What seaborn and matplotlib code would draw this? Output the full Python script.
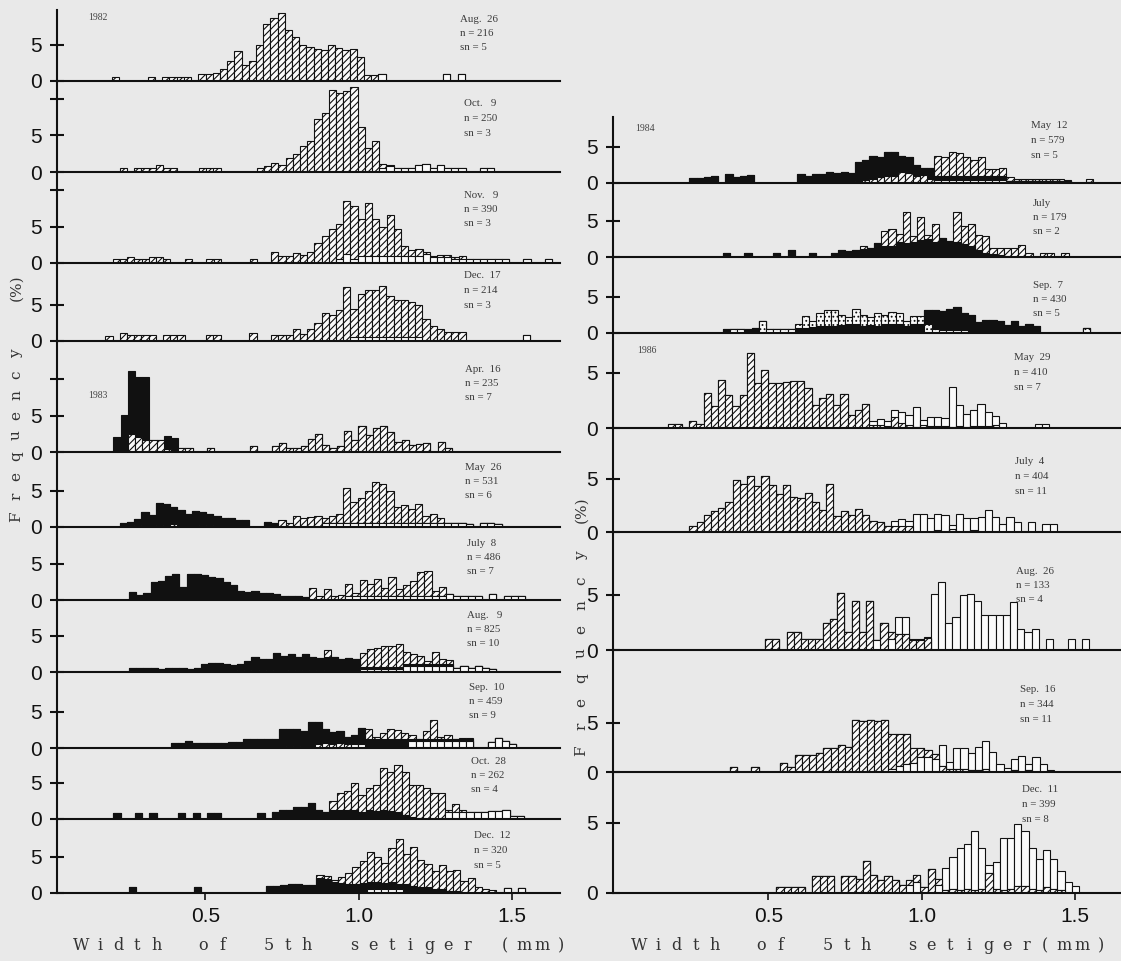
import numpy as np
import pandas as pd
import matplotlib
matplotlib.use("Agg")
import matplotlib.pyplot as plt
import seaborn as sns

# ------------------------------------------------------------------
# DATA  (frequency in %, one value per size class of width BIN_W mm)
# ------------------------------------------------------------------
BIN_W = 0.0235

# ---- 1982 Aug. 26 ----
P01_START = 0.195
P01_HATCH = [0.5,0,0,0,0,0.5,0,0.5,0.5,0.5, 0.5,0,1.0,1.0,1.1,1.6,2.7,4.1,2.2,2.7,
             5.0,7.8,8.6,9.3,7.0,6.0,5.0,4.6,4.4,4.3, 4.9,4.5,4.2,4.4,3.3,0.8,0.8]
P01_WHITE = [0,0,0,0,0,0,0,0,0,0, 0,0,0,0,0,0,0,0,0,0, 0,0,0,0,0,0,0,0,0,0,
             0,0,0,0,0,0,0,1.0,0,0, 0,0,0,0,0,0,1.0,0,1.0]
# ---- 1982 Oct. 9 ----
P02_START = 0.221
P02_HATCH = [0.5,0,0.5,0.5,0.5,0.9,0.6,0.5,0,0, 0,0.5,0.5,0.5,0,0,0,0,0,0.6,
             0.85,1.3,1.0,1.9,2.4,3.5,4.2,7.2,8.1,11.2, 10.8,11.1,11.6,6.1,3.3,4.2,0.6,0.2]
P02_WHITE = [0,0,0,0,0,0,0,0,0,0, 0,0,0,0,0,0,0,0,0,0, 0,0,0,0,0,0,0,0,0,0,
             0,0,0,0,0,0,0.5,0.8,0.5,0.5, 0.5,1.0,1.1,0.5,0.9,0.5,0.5,0.5,0,0, 0.5,0.5]
# ---- 1982 Nov. 9 ----
P03_START = 0.198
P03_HATCH = [0.5,0.5,0.8,0.6,0.5,0.8,0.8,0.6,0,0, 0.5,0,0,0.5,0.5,0,0,0,0,0.5,
             0,0,1.5,0.9,1.0,1.4,1.1,1.5,2.7,3.7, 4.6,4.8,7.3,7.2,5.1,7.3,5.1,4.1,5.7,3.7,
             1.3,0.8,0.9,0.3,0.2,0.3,0.3,0.2,0.3]
P03_WHITE = [0,0,0,0,0,0,0,0,0,0, 0,0,0,0,0,0,0,0,0,0, 0,0,0,0,0,0,0,0,0,0,
             0,0.5,1.2,0.6,0.9,0.9,0.9,0.9,0.9,0.9, 1.0,1.0,1.0,1.2,0.8,0.8,0.8,0.6,0.6,0.6,
             0.5,0.6,0.6,0.6,0.5,0,0,0.6,0,0, 0.6]
# ---- 1982 Dec. 17 ----
P04_START = 0.174
P04_HATCH = [0.7,0,1.1,0.8,0.8,0.8,0.8,0,0.8,0.8, 0.8,0,0,0,0.8,0.8,0,0,0,0,
             1.1,0,0,0.8,0.8,0.8,1.6,1.0,1.6,2.4, 3.9,3.6,4.2,7.4,3.9,6.0,6.5,6.5,7.0,5.7,
             5.1,5.1,4.9,4.5,3.0,2.1,1.6,1.2,1.2,1.2]
P04_WHITE = [0,0,0,0,0,0,0,0,0,0, 0,0,0,0,0,0,0,0,0,0, 0,0,0,0,0,0,0,0,0,0,
             0,0,0,0,0.5,0.5,0.5,0.5,0.5,0.5, 0.5,0.5,0.5,0.5,0,0,0,0,0,0,
             0,0,0,0,0,0,0,0,0.8]
# ---- 1983 Apr. 16 ----
P05_START = 0.200
P05_HATCH = [0,0.2,2.4,2.1,1.6,1.6,1.6,0.4,0,0.5, 0.5,0,0,0.5,0,0,0,0,0,0.8,
             0,0,0.8,1.2,0.6,0.6,0.8,1.8,2.5,0.9, 0.5,0.8,2.9,1.7,3.6,2.3,3.3,3.6,2.8,1.4,
             1.7,0.9,1.1,1.3,0,1.4,0.5]
P05_BLACK = [2.1,4.9,8.7,8.2,8.7,0,0,1.8,1.9]
# ---- 1983 May 26 ----
P06_START = 0.221
P06_HATCH_LO = [0,0,0.3,0,0,0.3,0.3,0.4,0,0, 0,0.3,0.3]
P06_BLACK = [0.5,0.7,0.8,2.1,1.6,3.0,2.8,2.4,2.3,1.8, 2.2,1.7,1.5,1.5,1.3,1.3,0.9,0.9,0,0,
             0.7,0.5]
P06_HATCH = [0,0,0,0,0,0,0,0,0,0, 0,0,0,0,0,0,0,0,0,0, 0,0,1.0,0.6,1.5,1.2,1.4,1.5,0.8,1.0,
             1.3,4.8,2.9,3.5,4.5,5.7,5.4,4.5,2.3,2.5, 2.0,2.6,1.0,1.3,0.7]
P06_WHITE = [0,0,0,0,0,0,0,0,0,0, 0,0,0,0,0,0,0,0,0,0, 0,0,0,0,0,0,0,0,0.5,0.5,
             0.5,0.5,0.5,0.5,0.5,0.5,0.5,0.5,0.5,0.5, 0.5,0.5,0.5,0.5,0.5,0.6,0.5,0.5,0.4,0,
             0.6,0.6,0.4]
# ---- 1983 July 8 ----
P07_START = 0.251
P07_BLACK = [1.1,0.7,1.0,2.4,2.6,3.3,3.6,1.8,3.6,3.6, 3.4,3.2,3.0,2.4,2.0,1.3,1.1,1.2,1.0,1.0,
             0.8,0.6,0.5,0.6,0.4]
P07_HATCH = [0,0,0,0,0,0,0,0,0,0, 0,0,0,0,0,0,0,0,0,0, 0,0,0,0,0,1.6,0.6,1.5,0.6,0.7,
             1.6,0.3,2.1,1.6,2.3,1.1,2.5,0.9,1.4,2.0, 3.2,3.4,0.7,1.2]
P07_WHITE = [0,0,0,0,0,0,0,0,0,0, 0,0,0,0,0,0,0,0,0,0, 0,0,0,0,0,0,0,0,0,0,
             0.6,0.6,0.6,0.6,0.6,0.6,0.6,0.6,0.6,0.6, 0.6,0.6,0.6,0.6,0.8,0.6,0.6,0.6,0.6,0,
             0.8,0,0.6,0.6,0.6]
# ---- 1983 Aug. 9 ----
P08_START = 0.251
P08_HATCH_LO = [0,0,0,0,0,0,0,0,0,0, 0,0,0,0,0,0.3,0,0.3,0.3,0.3, 0,0,0.3,0.3,0.3,0.3,0.3]
P08_BLACK = [0.5,0.5,0.6,0.5,0.4,0.5,0.5,0.5,0.4,0.6, 1.1,1.3,1.2,1.1,0.9,0.8,1.5,1.7,1.5,1.5,
             2.6,2.2,2.2,1.8,2.2,1.7,1.6,2.0,2.0,1.8, 1.9,1.8,0.3,0.3,0.3,0.3,0.3,0.3,0.3,0.3,
             0.3,0.3,0.3,0.3,0.3]
P08_HATCH = [0,0,0,0,0,0,0,0,0,0, 0,0,0,0,0,0,0,0,0,0, 0,0,0,0,0,0,0,1.0,0,0,
             0,0,1.9,2.4,2.6,2.8,2.9,3.1,1.6,1.3, 1.1,0.4,1.6,0.7,0.6]
P08_WHITE = [0,0,0,0,0,0,0,0,0,0, 0,0,0,0,0,0,0,0,0,0, 0,0,0,0,0,0,0,0,0,0,
             0,0,0.4,0.4,0.4,0.4,0.4,0.4,0.8,0.8, 0.8,0.8,0.8,0.8,0.8,0.5,0.8,0.5,0.8,0.5,
             0.4]
# ---- 1983 Sep. 10 ----
P09_START = 0.387
P09_WHITE = [0,0,0,0,0,0,0,0,0,0, 0,0,0,0,0,0,0,0,0,0, 0,0,0,0,0,0.5,0.5,0,0,0,
             0,0,0,0.9,0.9,0.9,0.9,0.9,0.9,0.9, 0.9,0.9,0,0,0.8,1.4,1.0,0.5]
P09_HATCH_LO = [0,0,0,0,0,0,0,0,0,0, 0,0,0,0,0.2,0,0.3,0.3,0,0, 0.5,0.7,0.5,0.7,0.5]
P09_BLACK = [0.7,0.7,0.9,0.7,0.7,0.7,0.7,0.7,0.8,0.8, 1.2,1.2,1.2,1.2,1.1,2.6,2.3,2.3,2.3,3.6,
             3.1,1.9,1.7,1.6,1.0,1.3,2.3,1.2,1.2,1.2, 1.2,1.2,1.2,0.3,0.3,0.3,0.3,0.3,0.3,0.3,
             0.3,0.3]
P09_HATCH = [0,0,0,0,0,0,0,0,0,0, 0,0,0,0,0,0,0,0,0,0, 0,0,0,0,0,0,0,1.4,0.3,0.8,
             1.4,1.2,0.8,0.6,0.1,1.1,2.7,0.3,0.6,0.1, 0.2,0.2]
# ---- 1983 Oct. 28 ----
P10_START = 0.200
P10_BLACK = [0.8,0,0,0.8,0,0.8,0,0,0,0.8, 0,0.8,0,0.8,0.8,0,0,0,0,0,
             0.8,0,1.0,1.3,1.3,1.6,1.6,2.2,1.3,1.0, 1.3,1.3,1.3,1.2,1.0,1.2,1.1,1.2,1.1,1.0,
             0.5,0.3,0.2]
P10_HATCH = [0,0,0,0,0,0,0,0,0,0, 0,0,0,0,0,0,0,0,0,0, 0,0,0,0,0,0,0,0,0,0,
             1.1,2.3,2.5,3.8,2.3,3.1,3.5,5.8,5.3,6.4, 6.0,4.3,4.4,4.3,3.6,3.5,0.3,1.2,0.3]
P10_WHITE = [0,0,0,0,0,0,0,0,0,0, 0,0,0,0,0,0,0,0,0,0, 0,0,0,0,0,0,0,0,0,0,
             0,0,0,0,0,0,0,0,0,0, 0,0,0,0,0,0,0.9,0.9,0.9,0.9, 0.9,0.9,1.1,1.1,1.2,0.4,0.4]
# ---- 1983 Dec. 12 ----
P11_START = 0.251
P11_WHITE = [0,0,0,0,0,0,0,0,0,0, 0,0,0,0,0,0,0,0,0,0, 0,0,0,0,0,0,0,0,0,0,
             0,0,0,0.6,0.6,0.6,0.6,0.6,0,0, 0,0,0,0,0,0,0,0,0,0, 0,0,0.7,0,0.7]
P11_BLACK = [0.8,0,0,0,0,0,0,0,0,0.8, 0,0,0,0,0,0,0,0,0,0.9,
             0.9,1.1,1.3,1.3,1.1,1.1,2.0,1.9,1.5,1.4, 1.3,1.3,1.4,0.9,0.9,0.8,0.9,0.7,1.2,1.0,
             0.8,0.8,0.5,0.5,0.3,0.3]
P11_HATCH = [0,0,0,0,0,0,0,0,0,0, 0,0,0,0,0,0,0,0,0,0, 0,0,0,0,0,0,0.5,0.4,0.3,0.8,
             1.4,2.2,3.0,4.1,3.4,2.7,4.7,6.1,4.2,5.3, 3.7,3.2,2.5,3.3,2.7,2.8,1.6,2.0,0.8,0.5,
             0.4]
# ---- 1984 May 12 ----
P12_START = 0.242
P12_WHITE = [0,0,0,0,0,0,0,0,0,0, 0,0,0,0,0,0,0,0,0,0, 0,0,0,0,0,0,0,0,0,0,
             0,0,0,0,0.4,0.4,0.4,0.4,0.4,0.4, 0.4,0.4,0.4,0.4,0.3,0.3,0.3,0.3,0.3,0.3,
             0.3,0.3,0.3,0,0,0.2]
P12_HATCH_LO = [0,0,0,0,0,0,0,0,0,0, 0,0,0,0,0,0,0,0,0,0, 0,0,0,0.3,0.4,0.5,0.8,1.0,1.0,1.5,
                1.4,1.0,1.1,0.5]
P12_BLACK = [0.7,0.7,0.8,1.0,0,1.2,0.8,1.0,1.1,0, 0,0,0,0,0,1.2,1.0,1.2,1.3,1.5,
             1.4,1.5,1.4,2.6,2.8,3.2,2.8,3.3,3.2,2.2, 2.2,1.4,1.0,1.6,0.5,0.5,0.5,0.5,0.5,0.5,
             0.5,0.5,0.5,0.5]
P12_HATCH = [0,0,0,0,0,0,0,0,0,0, 0,0,0,0,0,0,0,0,0,0, 0,0,0,0,0,0,0,0,0,0,
             0,0,0,0,2.8,2.7,3.3,3.2,2.7,2.3, 2.6,1.0,1.0,1.1,0.5,0.3,0.2,0.3,0.3,0.2,
             0.2,0.3,0.1,0,0,0.3]
# ---- 1984 July ----
P13_START = 0.351
P13_BLACK = [0.6,0,0,0.6,0,0,0,0.6,0,0.9, 0,0,0.6,0,0,0.5,1.0,0.8,0.9,1.1,
             1.2,1.9,1.5,1.5,2.0,1.9,2.0,2.3,2.5,2.1, 2.6,2.2,2.0,1.8,1.5,1.0,0.6,0.4,0.3,0.2]
P13_HATCH = [0,0,0,0,0,0,0,0,0,0, 0,0,0,0,0,0,0,0,0,0.4, 0,0,2.0,2.3,1.2,4.3,0.9,3.2,0.5,2.4,
             0,0,4.2,2.4,3.0,2.0,2.3,0.8,0.9,1.0, 1.2,1.7,0.6,0,0.6,0.6,0,0.6]
# ---- 1984 Sep. 7 (open bars stippled) ----
P14_START = 0.351
P14_WHITE = [0,0.6,0.6,0,0,1.6,0.6,0.6,0.6,0.6, 0,0,0,0,0,0,0,0,0,0,
             0,0,0,0,0,0,0,0,1.2,0.5, 0.4,0.4,0.4,0.4,0.2,0,0,0,0,0, 0,0,0,0,0,0,0,0,0,0, 0.7]
P14_BLACK = [0.5,0,0,0.6,0.7,0,0,0,0,0, 0.7,0.7,0.8,0.9,1.0,0.9,1.1,1.2,1.3,1.0,
             1.1,1.0,1.3,1.2,1.3,1.0,1.3,1.3,1.9,2.6, 2.6,2.9,3.2,2.4,2.3,1.5,1.8,1.8,1.6,1.1,
             1.7,0.9,1.2,1.0]
P14_WHITE_HI = [0,0,0,0,0,0,0,0,0,0, 0.5,1.6,0.9,1.8,2.1,2.3,1.3,1.0,2.0,1.5,
                1.1,1.7,1.2,1.7,1.4,0.7,1.0,1.0]
# ---- 1986 May 29 ----
P15_START = 0.171
P15_HATCH = [0.4,0.4,0,0.6,0.4,3.2,2.0,4.4,3.0,2.0, 3.0,6.8,4.1,5.3,4.1,4.1,4.2,4.3,4.3,3.6,
             2.1,2.7,3.1,2.1,3.1,1.2,1.6,2.2,0.3,0.3, 0.2,1.0,0.5,0.3,0.1,0.3,0.2,0.2,0.2,0.1,
             0.2,0.1,0.2,0.2,0.2,0.3,0]
P15_WHITE = [0,0,0,0,0,0,0,0,0,0, 0,0,0,0,0,0,0,0,0,0, 0,0,0,0,0,0,0,0,0.3,0.5,
             0.4,0.6,1.0,0.9,1.8,0.4,0.8,0.8,0.7,3.6, 1.9,1.2,1.4,2.0,1.3,0.8,0.5,0,0,0,
             0,0.4,0.4]
# ---- 1986 July 4 ----
P16_START = 0.242
P16_HATCH = [0.6,0.9,1.6,2.0,2.3,2.8,4.9,4.5,5.3,4.3, 5.3,4.4,3.6,4.4,3.3,3.2,3.7,2.8,2.1,4.5,
             1.5,2.0,1.6,2.2,1.6,1.0,0.9,0.6,0.6,0.6, 0.6,0,0,0,0.2,0,0.3,0,0,0.2]
P16_WHITE = [0,0,0,0,0,0,0,0,0,0, 0,0,0,0,0,0,0,0,0,0, 0,0,0,0,0,0,0,0,0.4,0.6,
             0.4,1.7,1.7,1.3,1.5,1.6,0.4,1.7,1.3,1.1, 1.4,2.1,1.4,0.8,1.4,0.9,0,0.9,0,0.8, 0.8]
# ---- 1986 Aug. 26 ----
P17_START = 0.489
P17_WHITE_LO = [0,0,0,0,0,0,0,0,0,0, 0,0,0,0,0,0.9,0,1.0]
P17_HATCH_LO = [1.0,1.0,0,1.6,1.6,1.0,1.0,1.0,2.5,2.8, 5.2,1.6,4.5,1.6,4.5,0,2.5,0,1.5,1.5,
                0.9,0.9,1.1]
P17_HATCH = [0,0,0,0,0,0,0,0,0,0, 0,0,0,0,0,0,0,0.6]
P17_WHITE = [0,0,0,0,0,0,0,0,0,0, 0,0,0,0,0,0,0,0,1.5,1.5, 0.1,0.1,0.1,5.1,6.2,2.5,3.0,5.0,5.1,4.5,
             3.2,3.2,3.2,3.2,4.4,1.9,1.6,1.9,0,1.0, 0,0,1.0,0,1.0]
# ---- 1986 Sep. 16 ----
P18_START = 0.374
P18_WHITE_LO = [0,0,0,0,0,0,0,0,0,0, 0,0,0,0,0,0,0,0,0,0, 0,0,0.3,0.6,0.8,0.9,1.5,1.5,1.3]
P18_HATCH_LO = [0.5,0,0,0.5,0,0,0,0.9,0.5,1.7, 1.7,1.7,1.9,2.5,2.4,2.8,2.6,5.3,5.2,5.3,
                5.2,5.3,0,0,0,0,0,0,0,0.6, 0.3,0.3,0.3,0.2,0.2,0.3,0,0,0,0.2, 0,0.2,0,0,0]
P18_HATCH = [0,0,0,0,0,0,0,0,0,0, 0,0,0,0,0,0,0,0,0,0, 0,0,3.6,3.3,3.1,1.6,1.0,0.7,0.5]
P18_WHITE = [0,0,0,0,0,0,0,0,0,0, 0,0,0,0,0,0,0,0,0,0, 0,0,0,0,0,0,0,0,0,2.2,
             0.7,2.2,2.2,1.7,2.4,2.9,2.0,0.8,0.4,1.1, 1.6,0.6,1.5,0.8,0.2]
# ---- 1986 Dec. 11 ----
P19_START = 0.526
P19_WHITE_LO = [0,0,0,0,0,0,0,0,0,0, 0,0,0,0,0,0,0,0,0.6,0.8, 0,0,0.6]
P19_HATCH_LO = [0.4,0.4,0.4,0.4,0,1.2,1.2,1.2,0,1.2, 1.2,1.0,2.3,1.3,0.9,1.2,0.9,0.6,0,0,
                0.4,1.7,0,0.2,0.3,0.2,0.3,0.2,0.3,1.4, 0.3,0.2,0.3,0.5,0.5,0.3,0.2,0.4,0.3,0.2,
                0,0]
P19_HATCH = [0,0,0,0,0,0,0,0,0,0, 0,0,0,0,0,0,0,0,0.3,0.5, 0,0,0.4]
P19_WHITE = [0,0,0,0,0,0,0,0,0,0, 0,0,0,0,0,0,0,0,0,0, 0,0,0,1.6,2.3,3.0,3.2,4.2,2.9,0.6,
             1.9,3.7,3.6,4.4,3.9,2.9,2.2,2.7,2.1,1.4, 0.8,0.5]

# panel labels: (date, n, sn)
LEFT_LABELS = [("Aug.  26", 216, 5), ("Oct.   9", 250, 3), ("Nov.   9", 390, 3),
               ("Dec.  17", 214, 3), ("Apr.  16", 235, 7), ("May  26", 531, 6),
               ("July  8", 486, 7), ("Aug.   9", 825, 10), ("Sep.  10", 459, 9),
               ("Oct.  28", 262, 4), ("Dec.  12", 320, 5)]
RIGHT_LABELS = [("May  12", 579, 5), ("July", 179, 2), ("Sep.  7", 430, 5),
                ("May  29", 410, 7), ("July  4", 404, 11), ("Aug.  26", 133, 4),
                ("Sep.  16", 344, 11), ("Dec.  11", 399, 8)]
YEARS = ["1982", "1983", "1984", "1986"]
X_TICKS = [0.5, 1.0, 1.5]

LEFT_DATA = [
    (P01_START, {"hatch_lo": P01_HATCH, "white_lo": P01_WHITE}),
    (P02_START, {"white_lo": P02_WHITE, "hatch_hi": P02_HATCH}),
    (P03_START, {"white_lo": P03_WHITE, "hatch_hi": P03_HATCH}),
    (P04_START, {"white_lo": P04_WHITE, "hatch_hi": P04_HATCH}),
    (P05_START, {"hatch_lo": P05_HATCH, "black": P05_BLACK}),
    (P06_START, {"white_lo": P06_WHITE, "hatch_lo": P06_HATCH_LO, "black": P06_BLACK, "hatch_hi": P06_HATCH}),
    (P07_START, {"white_lo": P07_WHITE, "black": P07_BLACK, "hatch_hi": P07_HATCH}),
    (P08_START, {"white_lo": P08_WHITE, "hatch_lo": P08_HATCH_LO, "black": P08_BLACK, "hatch_hi": P08_HATCH}),
    (P09_START, {"white_lo": P09_WHITE, "hatch_lo": P09_HATCH_LO, "black": P09_BLACK, "hatch_hi": P09_HATCH}),
    (P10_START, {"white_lo": P10_WHITE, "black": P10_BLACK, "hatch_hi": P10_HATCH}),
    (P11_START, {"white_lo": P11_WHITE, "black": P11_BLACK, "hatch_hi": P11_HATCH}),
]
RIGHT_DATA = [
    (P12_START, {"white_lo": P12_WHITE, "hatch_lo": P12_HATCH_LO, "black": P12_BLACK, "hatch_hi": P12_HATCH}),
    (P13_START, {"black": P13_BLACK, "hatch_hi": P13_HATCH}),
    (P14_START, {"white_lo": P14_WHITE, "black": P14_BLACK, "white_hi": P14_WHITE_HI}),
    (P15_START, {"hatch_lo": P15_HATCH, "white_hi": P15_WHITE}),
    (P16_START, {"hatch_lo": P16_HATCH, "white_hi": P16_WHITE}),
    (P17_START, {"white_lo": P17_WHITE_LO, "hatch_lo": P17_HATCH_LO, "hatch_hi": P17_HATCH, "white_hi": P17_WHITE}),
    (P18_START, {"white_lo": P18_WHITE_LO, "hatch_lo": P18_HATCH_LO, "hatch_hi": P18_HATCH, "white_hi": P18_WHITE}),
    (P19_START, {"white_lo": P19_WHITE_LO, "hatch_lo": P19_HATCH_LO, "hatch_hi": P19_HATCH, "white_hi": P19_WHITE}),
]

# ------------------------------------------------------------------
# LAYOUT / STYLE (pixels of the 1121 x 961 figure)
# ------------------------------------------------------------------
W, H = 1121, 961
BG = "#e9e9e9"
OPEN = "#fafafa"
INK = "#111111"
LEFT_X = (57, 560)
RIGHT_X = (613, 1121)
LEFT_XLIM = (0.016, 1.657)
RIGHT_XLIM = (-0.007, 1.65)
LEFT_TOP = 10
RIGHT_TOP = 117
LEFT_BASE = [81, 172, 263, 341, 452, 527, 600, 672, 748, 819, 893]
RIGHT_BASE = [183, 257, 333, 428, 532, 650, 772, 893]
LEFT_PXPCT = [7.3] * 11
RIGHT_PXPCT = [7.3, 7.3, 7.3, 11.0, 10.6, 11.0, 9.8, 14.0]
LEFT_TICK10 = [False, True, True, False, True, False, False, False, False, False, False]
RIGHT_TICK10 = [False] * 8
# position (px) of the first line of each panel's note
LEFT_TXT_PX = [(460, 19), (464, 104), (464, 195), (464, 276), (465, 369), (465, 467),
               (467, 543), (467, 615), (469, 687), (471, 761), (474, 836)]
RIGHT_TXT_PX = [(1031, 126), (1033, 203), (1033, 285), (1014, 358), (1015, 462),
                (1016, 571), (1020, 690), (1022, 790)]
LINE_STEP = 14.5
DOTTED = {("R", 2)}

ORDER = ["white_lo", "hatch_lo", "black", "hatch_hi", "white_hi"]
HATCH = "/////"

sns.set_theme(style="white")
plt.rcParams["font.family"] = ["Liberation Sans", "DejaVu Sans"]
plt.rcParams["hatch.linewidth"] = 0.8
plt.rcParams["hatch.color"] = INK

fig = plt.figure(figsize=(W / 100, H / 100), dpi=100, facecolor=BG)


def layer_style(name, dotted):
    if name == "black":
        return dict(facecolor=INK, hatch=None)
    if name.startswith("hatch"):
        return dict(facecolor=OPEN, hatch=HATCH)
    return dict(facecolor=OPEN, hatch=("...." if dotted else None))


def draw_panel(ax, start, layers, dotted):
    n = max(len(v) for v in layers.values())
    edges = [start + BIN_W * k for k in range(n + 1)]
    centers = [0.5 * (edges[k] + edges[k + 1]) for k in range(n)]
    cum = np.zeros(n)
    tops = []
    for name in ORDER:
        if name in layers:
            h = np.zeros(n)
            v = np.asarray(layers[name], dtype=float)
            h[:len(v)] = v
            cum = cum + h
            tops.append((name, cum.copy()))
    # draw the highest cumulative layer first, then cover with lower ones
    for name, top in reversed(tops):
        df = pd.DataFrame({"width_mm": centers, "freq": top})
        st = layer_style(name, dotted)
        sns.histplot(data=df, x="width_mm", weights="freq", bins=edges, ax=ax,
                     stat="count", element="bars", fill=True, alpha=1,
                     facecolor=st["facecolor"], edgecolor=INK, linewidth=0.8,
                     hatch=st["hatch"])


def make_column(col, xpx, xlim, top0, bases, pxpct, tick10, data, labels, txt_px):
    top = top0
    for i, base in enumerate(bases):
        ax = fig.add_axes([xpx[0] / W, 1 - base / H, (xpx[1] - xpx[0]) / W, (base - top) / H])
        ax.set_facecolor("none")
        start, layers = data[i]
        draw_panel(ax, start, layers, (col, i) in DOTTED)
        ax.set_xlim(*xlim)
        ax.set_ylim(0, (base - top) / pxpct[i])
        ax.set_xlabel("")
        ax.set_ylabel("")
        for s in ("top", "right"):
            ax.spines[s].set_visible(False)
        for s in ("left", "bottom"):
            ax.spines[s].set_color(INK)
            ax.spines[s].set_linewidth(1.5)
        ticks = [0, 5] + ([10] if tick10[i] else [])
        ax.set_yticks(ticks)
        ax.set_yticklabels(["0", "5"] + ([""] if tick10[i] else []))
        ax.tick_params(axis="y", direction="inout", length=10, width=1.5, pad=6,
                       labelsize=15, colors=INK, left=True)
        if i == len(bases) - 1:
            ax.set_xticks(X_TICKS)
            ax.set_xticklabels([f"{t:.1f}" for t in X_TICKS])
            ax.tick_params(axis="x", direction="out", length=5, width=1.2, pad=5,
                           labelsize=15, colors=INK, bottom=True)
        else:
            ax.set_xticks([])
        date, nn, sn = labels[i]
        tx, ty = txt_px[i]
        for k, line in enumerate([date, f"n = {nn}", f"sn = {sn}"]):
            fig.text(tx / W, 1 - (ty + k * LINE_STEP) / H, line, ha="left", va="center",
                     family=["Liberation Serif", "DejaVu Serif"], fontsize=7.8,
                     color="#3a3a3a")
        top = base


make_column("L", LEFT_X, LEFT_XLIM, LEFT_TOP, LEFT_BASE, LEFT_PXPCT, LEFT_TICK10,
            LEFT_DATA, LEFT_LABELS, LEFT_TXT_PX)
make_column("R", RIGHT_X, RIGHT_XLIM, RIGHT_TOP, RIGHT_BASE, RIGHT_PXPCT, RIGHT_TICK10,
            RIGHT_DATA, RIGHT_LABELS, RIGHT_TXT_PX)

# year labels
for yr, (px, py) in zip(YEARS, [(98, 17), (98, 396), (645, 128), (647, 351)]):
    fig.text(px / W, 1 - py / H, yr, ha="center", va="center",
             family=["Liberation Serif", "DejaVu Serif"], fontsize=7, color="#444444")


def spaced_text(s, p0, p1, fixed, size=12):
    n = len(s)
    for k, ch in enumerate(s):
        if ch == " ":
            continue
        t = p0 + (p1 - p0) * (k + 0.5) / n
        fig.text(t / W, 1 - fixed / H, ch, ha="center", va="center",
                 family=["DejaVu Serif"], fontsize=size, color="#333333")


def vertical_label(word, tail, y_first, y_last, y_tail, x, size=11):
    n = len(word)
    for k, ch in enumerate(word):
        y = y_first + (y_last - y_first) * k / (n - 1)
        fig.text(x / W, 1 - y / H, ch, rotation=90, ha="center", va="center",
                 family=["DejaVu Serif"], fontsize=size, color="#333333")
    fig.text(x / W, 1 - y_tail / H, tail, rotation=90, ha="center", va="center",
             family=["DejaVu Serif"], fontsize=size, color="#333333")


XLAB_L = "W i d t h    o f    5 t h    s e t i g e r   ( m m )"
XLAB_R = "W i d t h    o f    5 t h    s e t i g e r ( m m )"
spaced_text(XLAB_L, 76, 566, 946, size=11.5)
spaced_text(XLAB_R, 634, 1106, 946, size=11.5)
vertical_label("Frequency", "(%)", 517, 354, 288, 16)
vertical_label("Frequency", "(%)", 751, 556, 510, 581)

fig.savefig("out.png", dpi=100, facecolor=BG)
